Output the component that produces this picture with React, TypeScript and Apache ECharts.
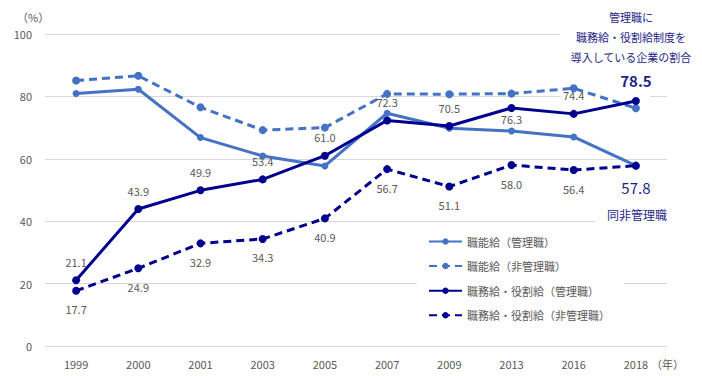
import React, { useEffect, useRef } from "react";
import * as echarts from "echarts";

const years = ["1999", "2000", "2001", "2003", "2005", "2007", "2009", "2013", "2016", "2018"];
const yTicks = [0, 20, 40, 60, 80, 100];
const seriesNames = [
  "職能給（管理職）",
  "職能給（非管理職）",
  "職務給・役割給（管理職）",
  "職務給・役割給（非管理職）",
];
const shokunoKanri = [80.9, 82.3, 66.8, 60.9, 57.7, 74.6, 69.8, 68.9, 67.0, 57.8];
const shokunoHiKanri = [85.1, 86.6, 76.5, 69.2, 70.0, 80.8, 80.7, 80.9, 82.6, 76.2];
const shokumuKanri = [21.1, 43.9, 49.9, 53.4, 61.0, 72.3, 70.5, 76.3, 74.4, 78.5];
const shokumuHiKanri = [17.7, 24.9, 32.9, 34.3, 40.9, 56.7, 51.1, 58.0, 56.4, 57.8];
const annotationLines = ["管理職に", "職務給・役割給制度を", "導入している企業の割合"];
const annotationBottom = "同非管理職";

const FONT = "'Noto Sans CJK JP', 'Noto Sans', sans-serif";
const LIGHT = "#4472C4";
const DARK = "#00008F";
const GREY = "#595959";
const ANN = "#1F1F8A";

const fmt = (p: any) => Number(p.value).toFixed(1);

export default function App() {
  const ref = useRef<HTMLDivElement>(null);
  useEffect(() => {
    if (!ref.current) return;
    const chart = echarts.init(ref.current, undefined, { renderer: "svg" });
    const last = years.length - 1;

    const kanriData = shokumuKanri.map((v, i) => {
      if (i === last) {
        return {
          value: v,
          label: {
            show: true,
            position: "top",
            distance: 9,
            fontSize: 15,
            fontWeight: "bold",
            color: ANN,
            fontFamily: FONT,
          },
        };
      }
      if (years[i] === "2013") {
        return { value: v, label: { show: true, position: "bottom", distance: 2 } };
      }
      return { value: v };
    });
    const hiKanriData = shokumuHiKanri.map((v, i) => {
      if (i === last) {
        return {
          value: v,
          label: {
            show: true,
            position: "bottom",
            distance: 10,
            fontSize: 15,
            color: ANN,
            fontFamily: FONT,
          },
        };
      }
      return { value: v };
    });

    const baseLabel = {
      show: true,
      fontSize: 11,
      color: GREY,
      fontFamily: FONT,
      formatter: fmt,
    };

    chart.setOption({
      animation: false,
      textStyle: { fontFamily: FONT },
      grid: { left: 45, right: 35, top: 34, bottom: 30 },
      xAxis: {
        type: "category",
        data: years,
        boundaryGap: true,
        axisLine: { show: false },
        axisTick: { show: false },
        axisLabel: { color: GREY, fontSize: 11, margin: 12, fontFamily: FONT },
      },
      yAxis: {
        type: "value",
        min: yTicks[0],
        max: yTicks[yTicks.length - 1],
        interval: 20,
        axisLine: { show: false },
        axisTick: { show: false },
        axisLabel: { color: GREY, fontSize: 11, margin: 13, fontFamily: FONT },
        splitLine: { lineStyle: { color: "#D9D9D9", width: 1 } },
      },
      legend: {
        orient: "vertical",
        left: 417,
        top: 231,
        padding: [5, 14, 5, 11],
        backgroundColor: "#ffffff",
        itemWidth: 33,
        itemHeight: 8,
        itemGap: 13.6,
        textStyle: { color: GREY, fontSize: 11, fontFamily: FONT },
        data: seriesNames,
      },
      series: [
        {
          name: seriesNames[0],
          type: "line",
          data: shokunoKanri,
          symbol: "circle",
          symbolSize: 7,
          itemStyle: { color: LIGHT },
          lineStyle: { color: LIGHT, width: 3 },
          z: 3,
        },
        {
          name: seriesNames[1],
          type: "line",
          data: shokunoHiKanri,
          symbol: "circle",
          symbolSize: 8,
          itemStyle: { color: LIGHT },
          lineStyle: { color: LIGHT, width: 3, type: [8, 5] },
          z: 3,
        },
        {
          name: seriesNames[2],
          type: "line",
          data: kanriData,
          symbol: "circle",
          symbolSize: 8,
          itemStyle: { color: DARK },
          lineStyle: { color: DARK, width: 3 },
          label: { ...baseLabel, position: "top", distance: 9 },
          z: 4,
        },
        {
          name: seriesNames[3],
          type: "line",
          data: hiKanriData,
          symbol: "circle",
          symbolSize: 8,
          itemStyle: { color: DARK },
          lineStyle: { color: DARK, width: 3, type: [8, 5] },
          label: { ...baseLabel, position: "bottom", distance: 9 },
          z: 4,
        },
      ],
      graphic: [
        { type: "rect", z: 1, shape: { x: 560, y: 0, width: 90, height: 98 }, style: { fill: "#ffffff" } },
        { type: "rect", z: 1, shape: { x: 596, y: 204, width: 90, height: 20 }, style: { fill: "#ffffff" } },
        {
          type: "text",
          z: 10,
          x: 17,
          y: 17,
          style: { text: "（%）", fill: GREY, fontSize: 11, fontFamily: FONT, textVerticalAlign: "middle" },
        },
        {
          type: "text",
          z: 10,
          x: 651,
          y: 364,
          style: { text: "（年）", fill: GREY, fontSize: 11, fontFamily: FONT, textVerticalAlign: "middle" },
        },
        ...annotationLines.map((t, i) => ({
          type: "text",
          z: 10,
          x: 631,
          y: 17 + i * 20,
          style: {
            text: t,
            fill: ANN,
            fontSize: 11,
            fontFamily: FONT,
            textAlign: "center",
            textVerticalAlign: "middle",
          },
        })),
        {
          type: "text",
          z: 10,
          x: 637,
          y: 214,
          style: {
            text: annotationBottom,
            fill: ANN,
            fontSize: 12,
            fontFamily: FONT,
            textAlign: "center",
            textVerticalAlign: "middle",
          },
        },
      ],
    });
    return () => chart.dispose();
  }, []);
  return (
    <div
      ref={ref}
      style={{ position: "fixed", left: 0, top: 0, width: 702, height: 376, background: "#ffffff" }}
    />
  );
}
